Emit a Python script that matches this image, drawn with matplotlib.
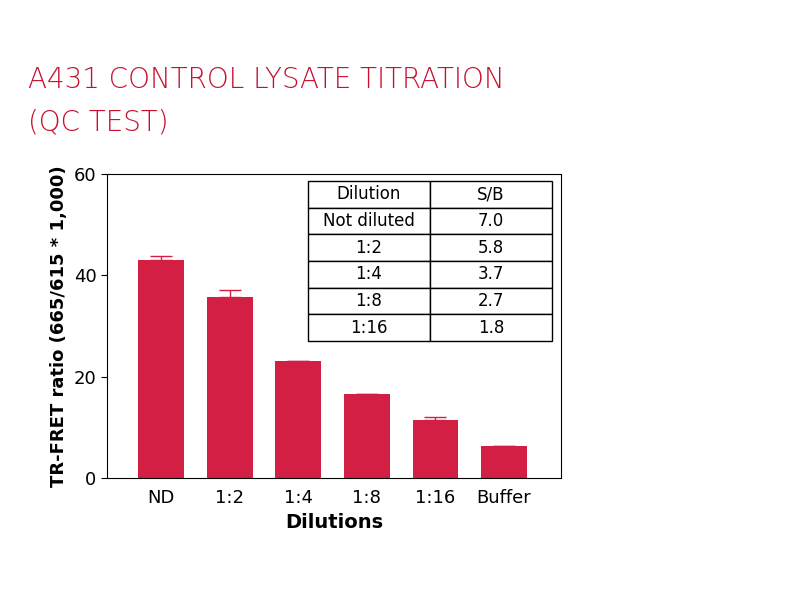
import matplotlib
matplotlib.use("Agg")
import matplotlib.pyplot as plt

categories = ["ND", "1:2", "1:4", "1:8", "1:16", "Buffer"]
values = [43.0, 35.7, 23.1, 16.6, 11.4, 6.3]
errors = [0.8, 1.4, 0.0, 0.0, 0.6, 0.0]
table_rows = [["Dilution", "S/B"], ["Not diluted", "7.0"], ["1:2", "5.8"],
              ["1:4", "3.7"], ["1:8", "2.7"], ["1:16", "1.8"]]
yticks = [0, 20, 40, 60]

red = "#d41f44"
fig = plt.figure(figsize=(8.01, 6.01), dpi=100)
fig.text(28/801, 1-80/601, "A431 CONTROL LYSATE TITRATION", color="#c8102e",
         fontsize=20, va="center", family="DejaVu Sans", fontweight="light")
fig.text(28/801, 1-123/601, "(QC TEST)", color="#c8102e",
         fontsize=20, va="center", family="DejaVu Sans", fontweight="light")

ax = fig.add_axes([107/801, 1-478/601, (561-107)/801, (478-174)/601])
x = range(len(categories))
ax.bar(x, values, width=0.67, color=red, zorder=2)
ax.errorbar(x, values, yerr=[[0]*len(errors), errors], fmt="none",
            ecolor=red, capsize=8, elinewidth=1, zorder=3)
ax.set_xlim(-0.79, 5.83)
ax.set_ylim(0, 60)
ax.set_yticks(yticks)
ax.set_xticks(list(x))
ax.set_xticklabels(categories)
ax.tick_params(labelsize=13, length=4)
for lab in ax.get_xticklabels() + ax.get_yticklabels():
    lab.set_fontweight("medium")
ax.tick_params(axis="x", length=0, pad=8)
ax.set_xlabel("Dilutions", fontsize=14, fontweight="bold")
ax.set_ylabel("TR-FRET ratio (665/615 * 1,000)", fontsize=13, fontweight="bold")
for s in ax.spines.values():
    s.set_linewidth(0.8)

tab = ax.table(cellText=table_rows, cellLoc="center",
               bbox=[(308-107)/454, (478-341)/304, (552-308)/454, 160/304],
               colWidths=[0.5, 0.5])
tab.auto_set_font_size(False)
tab.set_fontsize(12)
for c in tab.get_celld().values():
    c.set_linewidth(1)
    c.set_facecolor("white")
fig.savefig("out.png", dpi=100)
